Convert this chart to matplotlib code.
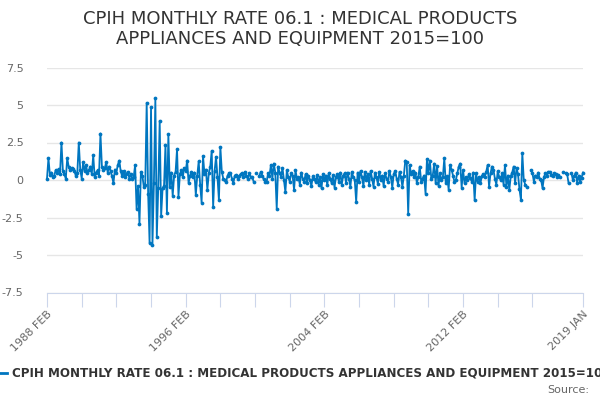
import matplotlib
matplotlib.use("Agg")
import matplotlib.pyplot as plt
from matplotlib.lines import Line2D
import numpy as np

# monthly rate, 1988 FEB .. 2019 JAN (None = no value published)
rates = [
    0.1, 1.45, 0.35, 0.5, 0.2, 0.3, 0.65, 0.5, 0.75, 0.4, 2.5, 0.6,
    0.4, 0.1, 1.45, 0.9, 0.65, 0.8, 0.75, 0.6, 0.25, 0.5, 2.5, 0.7,
    0.1, 1.2, 0.6, 1.0, 0.5, 0.65, 0.9, 0.4, 1.65, 0.2, 0.5, 0.65,
    0.3, 3.1, 0.9, 0.65, 0.8, 1.2, 0.5, 0.9, 0.6, 0.25, -0.2, 0.7,
    0.5, 1.0, 1.3, 0.6, 0.25, 0.6, 0.2, 0.4, 0.55, 0.1, 0.4, 0.1,
    0.2, 1.0, -1.9, -0.4, -2.9, 0.55, 0.3, -0.45, -0.3, 5.15, -0.9, -4.2,
    4.85, -4.3, -0.2, 5.45, -3.8, -0.5, 3.95, -2.4, -0.55, -0.4, 2.35, -2.2,
    3.05, -0.45, 0.5, -1.05, 0.3, 0.55, 2.05, -1.1, 0.4, 0.65, 0.2, 0.8,
    0.6, 1.3, -0.2, 0.3, 0.55, 0.2, 0.5, -1.0, 0.3, 1.25, -0.3, -1.5,
    1.6, 0.4, 0.7, -0.65, 0.45, 0.9, 1.95, -1.8, 0.6, 1.55, 0.2, -1.35,
    2.2, 0.55, 0.1, 0.0, -0.1, 0.3, 0.45, 0.45, 0.1, -0.2, 0.3, 0.35,
    0.1, 0.25, 0.4, 0.45, 0.2, 0.55, 0.3, 0.1, 0.45, 0.2, 0.2, -0.1,
    None, 0.5, None, 0.3, 0.55, 0.3, 0.05, -0.1, -0.15, 0.45, 0.3, 1.0,
    0.1, 1.1, 0.5, -1.9, 0.9, 0.5, 0.2, 0.8, 0.0, -0.8, 0.65, 0.2,
    -0.1, 0.45, 0.3, -0.65, 0.65, 0.1, 0.2, -0.3, 0.5, 0.1, -0.1, 0.4,
    -0.2, 0.3, 0.0, -0.4, 0.25, 0.1, -0.15, 0.35, -0.3, 0.2, -0.55, 0.4,
    0.0, 0.3, -0.35, 0.45, 0.1, -0.2, 0.35, -0.5, 0.2, 0.4, -0.1, 0.5,
    -0.3, 0.3, 0.45, -0.2, 0.5, 0.1, -0.45, 0.55, 0.2, 0.0, -1.45, 0.5,
    -0.1, 0.6, 0.2, -0.4, 0.55, 0.0, 0.4, -0.3, 0.6, 0.1, -0.45, 0.5,
    0.2, -0.25, 0.55, 0.0, 0.3, -0.4, 0.45, 0.1, -0.1, 0.6, 0.2, -0.5,
    0.4, 0.6, 0.1, -0.3, 0.55, 0.2, -0.45, 0.3, 1.3, 1.2, -2.25, 1.0,
    0.4, 0.6, 0.2, 0.5, -0.2, 0.2, 0.9, -0.1, 0.1, 0.3, -0.9, 1.4,
    0.5, 1.3, 0.1, 0.3, 1.1, -0.2, 0.95, -0.4, 0.45, 0.0, 0.2, 1.45,
    -0.2, 0.25, -0.65, 1.0, 0.7, 0.3, -0.1, 0.0, 0.45, 0.9, 1.1, -0.5,
    0.65, -0.2, 0.2, 0.0, 0.4, 0.15, -0.1, 0.5, -1.35, 0.45, -0.1, 0.2,
    -0.2, 0.25, 0.4, 0.2, 0.55, 1.0, -0.45, 0.45, 0.9, 0.7, 0.1, -0.3,
    0.6, 0.2, 0.0, 0.45, -0.3, 1.0, -0.45, 0.3, -0.65, 0.25, 0.5, 0.9,
    -0.2, 0.8, 0.4, -0.6, -1.3, 1.8, 0.0, -0.3, -0.45, None, None, 0.65,
    0.45, -0.1, 0.3, 0.2, 0.5, 0.1, 0.0, -0.55, 0.2, 0.45, 0.3, 0.55,
    0.55, 0.35, 0.3, 0.45, 0.4, 0.2, 0.35, 0.2, None, 0.55, None, 0.45,
    0.4, -0.2, None, 0.45, 0.0, 0.3, 0.5, -0.2, 0.3, -0.1, 0.15, 0.5,
]

tick_pos = [0, 24, 48, 72, 96, 120, 144, 168, 192, 216, 240, 264, 288, 312, 336, 371]
label_pos = {0: "1988 FEB", 96: "1996 FEB", 192: "2004 FEB", 288: "2012 FEB", 371: "2019 JAN"}
y_ticks = [7.5, 5, 2.5, 0, -2.5, -5, -7.5]
y_labels = ["7.5", "5", "2.5", "0", "-2.5", "-5", "-7.5"]

title = "CPIH MONTHLY RATE 06.1 : MEDICAL PRODUCTS\nAPPLIANCES AND EQUIPMENT 2015=100"
series_name = "CPIH MONTHLY RATE 06.1 : MEDICAL PRODUCTS APPLIANCES AND EQUIPMENT 2015=100"

blue = "#0076c0"
vals = np.array([np.nan if v is None else v for v in rates], dtype=float)
x = np.arange(len(vals))

fig = plt.figure(figsize=(6, 4), dpi=100)
ax = fig.add_axes([47 / 600, 1 - 292.5 / 400, 536 / 600, 225 / 400])

ax.plot(x, vals, '-o', color=blue, lw=1.3, ms=2.7, mew=0, clip_on=False)

ax.set_xlim(0, 371)
ax.set_ylim(-7.5, 7.5)
ax.set_yticks(y_ticks)
ax.set_yticklabels(y_labels)
ax.yaxis.grid(True, color="#e6e6e6", lw=1)
ax.set_axisbelow(True)
ax.tick_params(axis="y", length=0, labelsize=8, labelcolor="#666666", pad=17)

ax.set_xticks(tick_pos)
ax.set_xticklabels([label_pos.get(p, "") for p in tick_pos], rotation=45,
                   ha="right", rotation_mode="anchor")
ax.tick_params(axis="x", length=10, color="#ccd6eb", labelsize=8,
               labelcolor="#666666", pad=2)

for s in ["top", "right", "left"]:
    ax.spines[s].set_visible(False)
ax.spines["bottom"].set_color("#ccd6eb")

fig.text(0.5, 1 - 29 / 400, title, ha="center", va="center", fontsize=13,
         color="#333333", linespacing=1.12)

fig.add_artist(Line2D([-0.01, 0.012], [1 - 373 / 400] * 2, color=blue, lw=2,
                      transform=fig.transFigure))
fig.text(12 / 600, 1 - 373 / 400, series_name, ha="left", va="center",
         fontsize=8.6, fontweight="bold", color="#333333")
fig.text(589 / 600, 1 - 390 / 400, "Source:", ha="right", va="center",
         fontsize=8, color="#666666")

plt.savefig("out.png", dpi=100)
